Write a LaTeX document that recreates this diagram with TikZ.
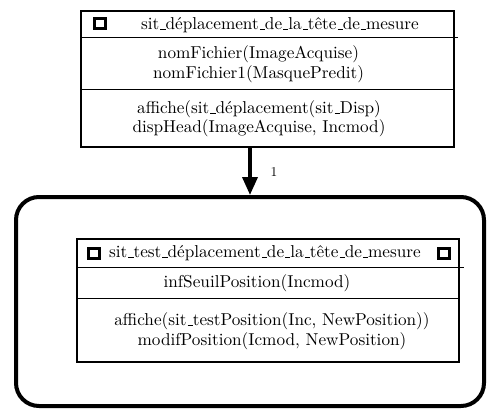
\documentclass[tikz,border=0pt]{standalone}
\usepackage{fontspec}
\setmainfont{lmroman10-regular}[Extension=.otf]
\usetikzlibrary{arrows.meta}
% short low rule used as the underscore in identifiers
\newcommand{\usc}{\leavevmode\kern.06em\vbox{\hrule width.3em height .4pt}}
\begin{document}
\begin{tikzpicture}[x=1pt,y=-1pt,
  classbox/.style={draw, line width=1.1pt, rectangle, inner sep=0pt},
  sepline/.style={line width=1pt},
  txt/.style={inner sep=0pt, align=center, font=\fontsize{17.2}{19.5}\selectfont},
  marker/.style={draw, line width=3pt, rectangle, inner sep=0pt, minimum size=10.5pt},
  group/.style={draw, line width=4pt, rectangle, rounded corners=23pt, inner sep=0pt},
  flow/.style={line width=3.6pt, -{Triangle[length=18pt,width=15pt]}},
  lbl/.style={inner sep=0pt, font=\fontsize{13.5}{15}\selectfont}]
  \useasboundingbox (0,0) rectangle (487,412);

  % outer state group
  \node[group, minimum width=468pt, minimum height=209pt] (grp) at (250,301.5) {};

  % upper class: sit_déplacement_de_la_tête_de_mesure
  \node[classbox, minimum width=373pt, minimum height=136pt] (disp) at (267.5,79) {};
  \draw[sepline] (disp.west |- 0,38) -- ([xshift=3pt]disp.east |- 0,38);
  \draw[sepline] (disp.west |- 0,89.5) -- (disp.east |- 0,89.5);
  \node[marker] (dispM) at (100,23.5) {};
  \node[txt] (dispT) at (280,25) {sit\usc déplacement\usc de\usc la\usc tête\usc de\usc mesure};
  \node[txt] (dispA) at (258.5,64) {nomFichier(ImageAcquise)\\nomFichier1(MasquePredit)};
  \node[txt] (dispO) at (259,118.5) {affiche(sit\usc déplacement(sit\usc Disp)\\dispHead(ImageAcquise, Incmod)};

  % inner class: sit_test_déplacement_de_la_tête_de_mesure
  \node[classbox, minimum width=382pt, minimum height=123pt] (test) at (268,300.5) {};
  \draw[sepline] (test.west |- 0,267.5) -- ([xshift=4pt]test.east |- 0,267.5);
  \draw[sepline] (test.west |- 0,298) -- (test.east |- 0,298);
  \node[marker] (testML) at (94,253.5) {};
  \node[marker] (testMR) at (444,253.5) {};
  \node[txt] (testT) at (265,253) {sit\usc test\usc déplacement\usc de\usc la\usc tête\usc de\usc mesure};
  \node[txt] (testA) at (257,283.5) {infSeuilPosition(Incmod)};
  \node[txt] (testO) at (272,331) {affiche(sit\usc testPosition(Inc, NewPosition))\\modifPosition(Icmod, NewPosition)};

  % transition
  \draw[flow] (grp.north |- disp.south) -- (grp.north);
  \node[lbl] (flowL) at (274,172) {1};
\end{tikzpicture}
\end{document}
